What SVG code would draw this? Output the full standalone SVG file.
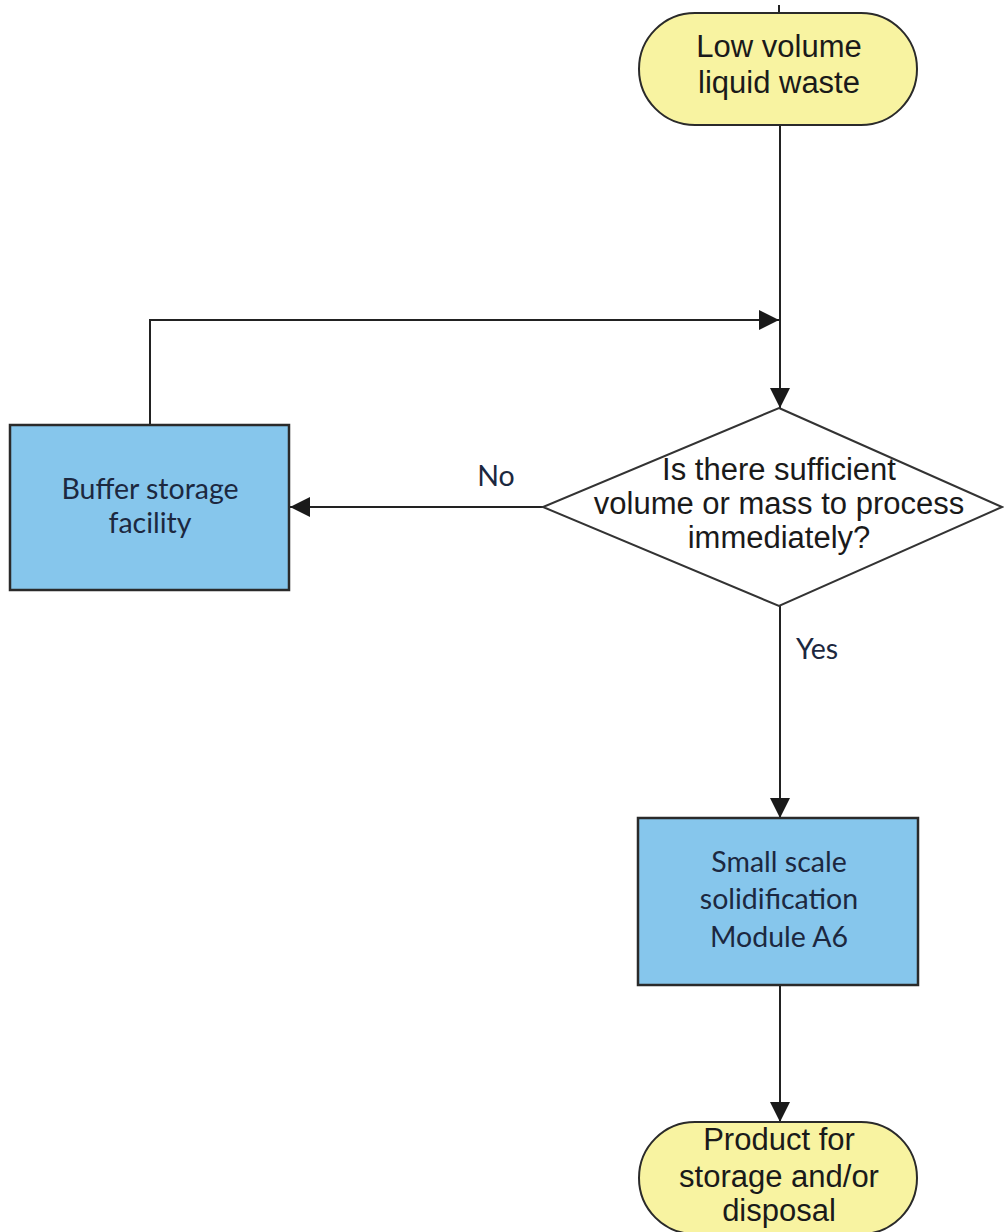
<svg xmlns="http://www.w3.org/2000/svg" width="1004" height="1232" viewBox="0 0 1004 1232">
<style>
.term{fill:#F8F3A1;stroke:#2a2a2a;stroke-width:2}
.box{fill:#86C6EC;stroke:#2a2a2a;stroke-width:2.5}
.dia{fill:#ffffff;stroke:#333;stroke-width:2}
.ta{font-family:"Liberation Sans",Arial,sans-serif;font-size:31px;fill:#1a1a1a;text-anchor:middle}
.tc{font-family:Lato,"Open Sans",sans-serif;font-size:28.5px;fill:#1c2840;text-anchor:middle}
.ln{fill:none;stroke:#222;stroke-width:2}
</style>
<defs>
<marker id="ah" markerUnits="userSpaceOnUse" markerWidth="22" markerHeight="22" refX="20" refY="10" orient="auto">
<path d="M0,0 L20,10 L0,20 Z" fill="#1a1a1a"/>
</marker>
</defs>
<rect width="1004" height="1232" fill="#ffffff"/>
<g id="connectors">
<line class="ln" x1="779" y1="5" x2="779" y2="13"/>
<line class="ln" x1="780" y1="125" x2="780" y2="408" marker-end="url(#ah)"/>
<polyline class="ln" points="150,425 150,320 779,320" marker-end="url(#ah)"/>
<line class="ln" x1="543" y1="507" x2="290" y2="507" marker-end="url(#ah)"/>
<line class="ln" x1="780" y1="606" x2="780" y2="818" marker-end="url(#ah)"/>
<line class="ln" x1="780" y1="985" x2="780" y2="1122" marker-end="url(#ah)"/>
<text class="tc" x="496" y="486">No</text>
<text class="tc" x="817" y="659">Yes</text>
</g>
<g id="start">
<rect class="term" x="639" y="13" width="278" height="112" rx="56" ry="56"/>
<text class="ta" x="779" y="57">Low volume</text>
<text class="ta" x="779" y="93">liquid waste</text>
</g>
<g id="decision">
<polygon class="dia" points="779,408 1002,507 779,606 543,507"/>
<text class="ta" x="779" y="480">Is there sufficient</text>
<text class="ta" x="779" y="514">volume or mass to process</text>
<text class="ta" x="779" y="548">immediately?</text>
</g>
<g id="buffer">
<rect class="box" x="10" y="425" width="279" height="165"/>
<text class="tc" x="150" y="499">Buffer storage</text>
<text class="tc" x="150" y="533">facility</text>
</g>
<g id="solidification">
<rect class="box" x="638" y="818" width="280" height="167"/>
<text class="tc" x="779" y="872">Small scale</text>
<text class="tc" x="779" y="909">solidification</text>
<text class="tc" x="779" y="947">Module A6</text>
</g>
<g id="product">
<rect class="term" x="639" y="1122" width="278" height="112" rx="56" ry="56"/>
<text class="ta" x="779" y="1150">Product for</text>
<text class="ta" x="779" y="1187">storage and/or</text>
<text class="ta" x="779" y="1221">disposal</text>
</g>
</svg>
